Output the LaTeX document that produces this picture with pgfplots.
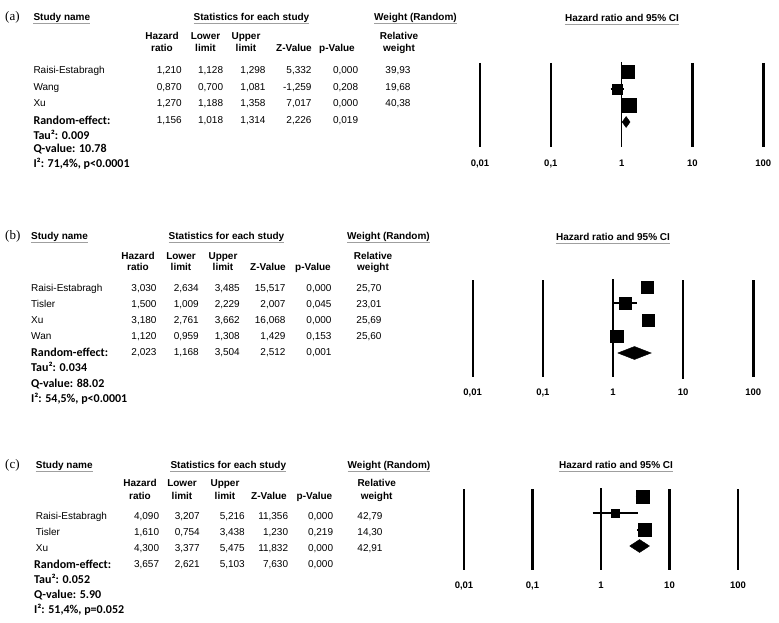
\documentclass[border=0pt]{standalone}
\usepackage{fontspec}
\setmainfont{Liberation Sans}
\newfontfamily\calfont{Carlito}
\newfontfamily\serfont{Liberation Serif}
\usepackage{pgfplots}
\pgfplotsset{compat=1.18}

\newcommand\NL[3]{\node[anchor=base west,inner sep=0pt] at (#1,#2+3.6) {#3};}
\newcommand\NR[3]{\node[anchor=base east,inner sep=0pt] at (#1,#2+3.6) {#3};}
\newcommand\NC[3]{\node[anchor=base,inner sep=0pt] at (#1,#2+3.6) {#3};}
\newcommand\NCB[3]{\node[anchor=base,inner sep=0pt] at (#1,#2+3.6) {\bfseries #3};}
\newcommand\NB[3]{\node[anchor=base west,inner sep=0pt,font=\calfont\bfseries\fontsize{12}{14}\selectfont] at (#1,#2+4.2) {#3};}
\newcommand\HDL[3]{\node[anchor=base west,inner sep=0pt] (h) at (#1,#2+3.6) {\bfseries #3};
  \draw[gray!75,line width=1.2pt] ([yshift=-3pt]h.base west) -- ([yshift=-3pt]h.base east);}
\newcommand\HDC[3]{\node[anchor=base,inner sep=0pt] (h) at (#1,#2+3.6) {\bfseries #3};
  \draw[gray!75,line width=1.2pt] ([yshift=-3pt]h.base west) -- ([yshift=-3pt]h.base east);}
\newcommand\PL[3]{\node[anchor=base west,inner sep=0pt,font=\serfont\fontsize{13}{15}\selectfont] at (#1,#2+3.4) {#3};}
\newcommand\setcols[6]{\def\cHR{#1}\def\cLo{#2}\def\cUp{#3}\def\cZ{#4}\def\cP{#5}\def\cW{#6}}
\newcommand\DR[9]{\NL{#1}{#2}{#3}\NR{\cHR}{#2}{#4}\NR{\cLo}{#2}{#5}\NR{\cUp}{#2}{#6}\NR{\cZ}{#2}{#7}\NR{\cP}{#2}{#8}\NC{\cW}{#2}{#9}}
\newcommand\RR[8]{\NB{#1}{#2}{#3}\NR{\cHR}{#2}{#4}\NR{\cLo}{#2}{#5}\NR{\cUp}{#2}{#6}\NR{\cZ}{#2}{#7}\NR{\cP}{#2}{#8}}
\newcommand\SUB[7]{%
  \NCB{#3}{#1}{Hazard}\NCB{#3}{#2}{ratio}\NCB{#4}{#1}{Lower}\NCB{#4}{#2}{limit}
  \NCB{#5}{#1}{Upper}\NCB{#5}{#2}{limit}\NCB{#6}{#2}{Z-Value}\NCB{#7}{#2}{p-Value}}

\pgfplotsset{every axis/.append style={scale only axis, xmode=log, xmin=0.01, xmax=100,
  clip=false, axis line style={draw=none}, major tick length=0pt, minor tick length=0pt,
  tick style={draw=none}, minor x tick num=0, ytick=\empty,
  xtick={0.01,0.1,1,10,100}, minor xtick={}, xticklabels={{0,01},{0,1},{1},{10},{100}},
  xticklabel style={anchor=base, inner sep=0pt, font=\fontsize{9.5}{10}\selectfont\bfseries},
  anchor=south west}}
\tikzset{vl/.style={black, line width=2.4pt},
  vone/.style={black, line width=1.4pt},
  ci/.style={black, line width=1.8pt},
  dia/.style={black, fill=black, line width=0.4pt}}

\begin{document}
\fontsize{10}{12}\selectfont
\begin{tikzpicture}[x=1pt,y=-1pt]
\useasboundingbox (0,0) rectangle (779,623);

% ================= (a) =================
\PL{5}{17}{(a)}
\HDL{33.3}{17}{Study name}
\HDC{251.5}{17}{Statistics for each study}
\HDC{415.5}{17}{Weight (Random)}
\HDC{622}{18}{Hazard ratio and 95\% CI}
\SUB{36}{48}{162}{205.5}{246}{294}{337}
\NCB{399}{36}{Relative}\NCB{399}{48}{weight}
\setcols{182}{223.3}{265.7}{311.7}{358.3}{398}
\DR{33.3}{70}{Raisi-Estabragh}{1,210}{1,128}{1,298}{5,332}{0,000}{39,93}
\DR{33.3}{87}{Wang}{0,870}{0,700}{1,081}{-1,259}{0,208}{19,68}
\DR{33.3}{103}{Xu}{1,270}{1,188}{1,358}{7,017}{0,000}{40,38}
\RR{33.3}{120}{Random-effect:}{1,156}{1,018}{1,314}{2,226}{0,019}
\NB{33.3}{135}{Tau²: 0.009}
\NB{33.3}{148.3}{Q-value: 10.78}
\NB{33.3}{163}{I²: 71,4\%, p<0.0001}

\begin{axis}[width=283.3pt, height=106.2pt, ymin=-166.2, ymax=-60, at={(480pt,-166.2pt)}]
\addplot[vl, mark=none] coordinates {(0.01,-63) (0.01,-147)};
\addplot[vl, mark=none] coordinates {(0.1,-63) (0.1,-147)};
\addplot[vone, mark=none] coordinates {(1,-62) (1,-147)};
\addplot[vl, mark=none] coordinates {(10,-63) (10,-147)};
\addplot[vl, mark=none] coordinates {(100,-63) (100,-147)};
\addplot[ci, mark=none] coordinates {(1.128,-71.5) (1.298,-71.5)};
\addplot[black, only marks, mark=square*, mark size=6.5pt] coordinates {(1.210,-71.5)};
\addplot[ci, mark=none] coordinates {(0.700,-89) (1.081,-89)};
\addplot[black, only marks, mark=square*, mark size=5pt] coordinates {(0.870,-89)};
\addplot[ci, mark=none] coordinates {(1.188,-105) (1.358,-105)};
\addplot[black, only marks, mark=square*, mark size=7pt] coordinates {(1.270,-105)};
\addplot[dia, mark=none] coordinates {(1.018,-122) (1.156,-116.5) (1.314,-122) (1.156,-127.5) (1.018,-122)};
\end{axis}

% ================= (b) =================
\PL{5}{236}{(b)}
\HDL{31}{236}{Study name}
\HDC{226.5}{236}{Statistics for each study}
\HDC{388.5}{236}{Weight (Random)}
\HDC{613}{237}{Hazard ratio and 95\% CI}
\SUB{256}{267.3}{138}{181}{223}{268}{313}
\NCB{373}{256}{Relative}\NCB{373}{267.3}{weight}
\setcols{156.7}{199}{240}{285.7}{331.7}{369}
\DR{31}{288.3}{Raisi-Estabragh}{3,030}{2,634}{3,485}{15,517}{0,000}{25,70}
\DR{31}{303.5}{Tisler}{1,500}{1,009}{2,229}{2,007}{0,045}{23,01}
\DR{31}{320}{Xu}{3,180}{2,761}{3,662}{16,068}{0,000}{25,69}
\DR{31}{336}{Wan}{1,120}{0,959}{1,308}{1,429}{0,153}{25,60}
\RR{31}{352.3}{Random-effect:}{2,023}{1,168}{3,504}{2,512}{0,001}
\NB{31}{367.3}{Tau²: 0.034}
\NB{31}{383.3}{Q-value: 88.02}
\NB{31}{398.3}{I²: 54,5\%, p<0.0001}

\begin{axis}[width=280.6pt, height=118.2pt, ymin=-395.2, ymax=-277, at={(472.7pt,-395.2pt)}]
\addplot[vl, mark=none] coordinates {(0.01,-280) (0.01,-377)};
\addplot[vl, mark=none] coordinates {(0.1,-280) (0.1,-377)};
\addplot[vone, mark=none] coordinates {(1,-279) (1,-377)};
\addplot[vl, mark=none] coordinates {(10,-280) (10,-379)};
\addplot[vl, mark=none] coordinates {(100,-280) (100,-377)};
\addplot[ci, mark=none] coordinates {(2.634,-287.5) (3.485,-287.5)};
\addplot[black, only marks, mark=square*, mark size=6pt] coordinates {(3.030,-287.5)};
\addplot[ci, mark=none] coordinates {(1.009,-303) (2.229,-303)};
\addplot[black, only marks, mark=square*, mark size=5.7pt] coordinates {(1.500,-303)};
\addplot[ci, mark=none] coordinates {(2.761,-320) (3.662,-320)};
\addplot[black, only marks, mark=square*, mark size=6.3pt] coordinates {(3.180,-320)};
\addplot[ci, mark=none] coordinates {(0.959,-336) (1.308,-336)};
\addplot[black, only marks, mark=square*, mark size=6.3pt] coordinates {(1.120,-336)};
\addplot[dia, mark=none] coordinates {(1.168,-353) (2.023,-346.5) (3.504,-353) (2.023,-359.5) (1.168,-353)};
\end{axis}

% ================= (c) =================
\PL{5}{465}{(c)}
\HDL{35.7}{464.5}{Study name}
\HDC{228.3}{464.5}{Statistics for each study}
\HDC{389}{464.5}{Weight (Random)}
\HDC{616}{465}{Hazard ratio and 95\% CI}
\SUB{483.3}{495.7}{140}{182}{225}{269}{314.5}
\NCB{376.7}{483.3}{Relative}\NCB{376.7}{495.7}{weight}
\setcols{159.3}{200}{245}{288.3}{333.3}{370}
\DR{35.7}{516}{Raisi-Estabragh}{4,090}{3,207}{5,216}{11,356}{0,000}{42,79}
\DR{35.7}{531.7}{Tisler}{1,610}{0,754}{3,438}{1,230}{0,219}{14,30}
\DR{35.7}{547.7}{Xu}{4,300}{3,377}{5,475}{11,832}{0,000}{42,91}
\RR{34}{564.3}{Random-effect:}{3,657}{2,621}{5,103}{7,630}{0,000}
\NB{34}{579.3}{Tau²: 0.052}
\NB{34}{594}{Q-value: 5.90}
\NB{34}{609.3}{I²: 51,4\%, p=0.052}

\begin{axis}[width=274pt, height=102.2pt, ymin=-588.2, ymax=-486, at={(464pt,-588.2pt)}]
\addplot[vl, mark=none] coordinates {(0.01,-489) (0.01,-570)};
\addplot[vl, mark=none] coordinates {(0.1,-489) (0.1,-570)};
\addplot[vone, mark=none] coordinates {(1,-488) (1,-570)};
\addplot[vl, mark=none] coordinates {(10,-489) (10,-570)};
\addplot[vl, mark=none] coordinates {(100,-489) (100,-570)};
\addplot[ci, mark=none] coordinates {(3.207,-496.5) (5.216,-496.5)};
\addplot[black, only marks, mark=square*, mark size=6.5pt] coordinates {(4.090,-496.5)};
\addplot[ci, mark=none] coordinates {(0.754,-512.7) (3.438,-512.7)};
\addplot[black, only marks, mark=square*, mark size=4pt] coordinates {(1.610,-512.7)};
\addplot[ci, mark=none] coordinates {(3.377,-530) (5.475,-530)};
\addplot[black, only marks, mark=square*, mark size=6.5pt] coordinates {(4.300,-530)};
\addplot[dia, mark=none] coordinates {(2.621,-546) (3.657,-539.5) (5.103,-546) (3.657,-552.5) (2.621,-546)};
\end{axis}
\end{tikzpicture}
\end{document}
